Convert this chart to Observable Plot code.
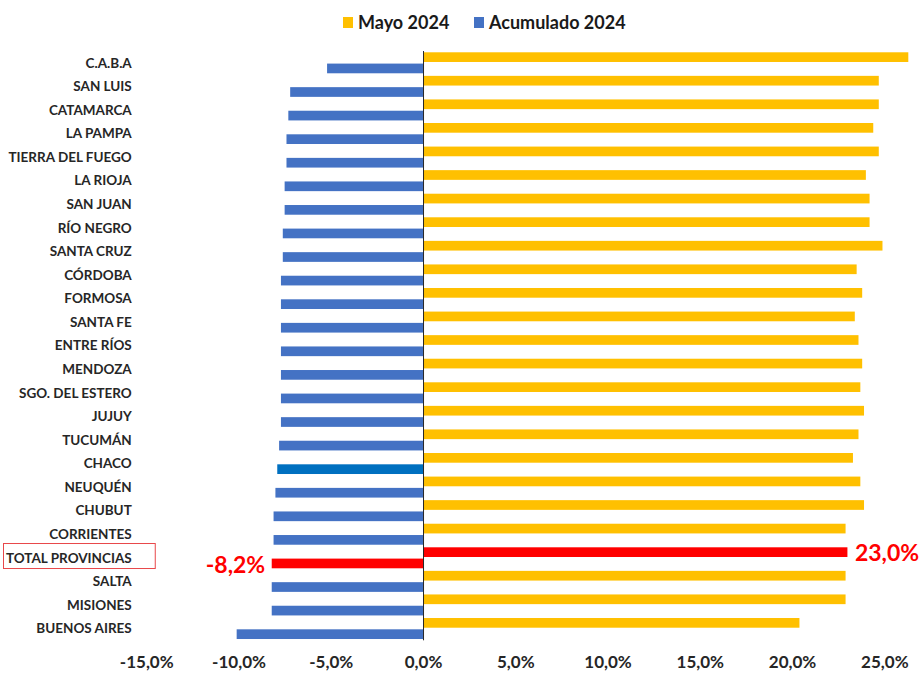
<!DOCTYPE html>
<html>
<head>
<meta charset="utf-8">
<script src="https://cdn.jsdelivr.net/npm/d3@7"></script>
<script src="https://cdn.jsdelivr.net/npm/@observablehq/plot@0.6"></script>
<style>
  html, body { margin: 0; padding: 0; background: #fff; }
  body { width: 922px; height: 675px; overflow: hidden; font-family: Lato, "Open Sans", sans-serif; }
  #legend { position: relative; width: 922px; height: 44px; }
  .lg-item { position: absolute; top: 11px; display: flex; align-items: center; font-weight: bold; font-size: 18px; color: #1a1a1a; line-height: 22px; }
  .lg-sw { width: 10px; height: 11px; margin-right: 5px; }
  #chart svg { display: block; }
</style>
</head>
<body>
<div id="legend">
  <div class="lg-item" style="left:343px"><span class="lg-sw" style="background:#FFC000"></span>Mayo 2024</div>
  <div class="lg-item" style="left:474px"><span class="lg-sw" style="background:#4472C4"></span>Acumulado 2024</div>
</div>
<div id="chart"></div>
<script>
const categories = [
  "C.A.B.A", "SAN LUIS", "CATAMARCA", "LA PAMPA", "TIERRA DEL FUEGO", "LA RIOJA",
  "SAN JUAN", "RÍO NEGRO", "SANTA CRUZ", "CÓRDOBA", "FORMOSA", "SANTA FE",
  "ENTRE RÍOS", "MENDOZA", "SGO. DEL ESTERO", "JUJUY", "TUCUMÁN", "CHACO",
  "NEUQUÉN", "CHUBUT", "CORRIENTES", "TOTAL PROVINCIAS", "SALTA", "MISIONES", "BUENOS AIRES"
];
const mayo2024 = [
  26.3, 24.7, 24.7, 24.4, 24.7, 24.0,
  24.2, 24.2, 24.9, 23.5, 23.8, 23.4,
  23.6, 23.8, 23.7, 23.9, 23.6, 23.3,
  23.7, 23.9, 22.9, 23.0, 22.9, 22.9, 20.4
];
const acumulado2024 = [
  -5.2, -7.2, -7.3, -7.4, -7.4, -7.5,
  -7.5, -7.6, -7.6, -7.7, -7.7, -7.7,
  -7.7, -7.7, -7.7, -7.7, -7.8, -7.9,
  -8.0, -8.1, -8.1, -8.2, -8.2, -8.2, -10.1
];
const xTicks = [-15, -10, -5, 0, 5, 10, 15, 20, 25];
const totalLabel = "TOTAL PROVINCIAS";
const altBlueLabel = "CHACO";

const YELLOW = "#FFC000", BLUE = "#4472C4", ALT_BLUE = "#0070C0", RED = "#FF0000", TEXT = "#262626";

const rows = categories.map((c, i) => ({cat: c, mayo: mayo2024[i], acum: acumulado2024[i]}));
const fmt = d => d.toFixed(1).replace(".", ",") + "%";

const W = 922, H = 631, mTop = 7, mBottom = 34.7, mLeft = 146.25, mRight = 10;
const step = (H - mTop - mBottom) / categories.length;
const half = step / 2;

const chart = Plot.plot({
  width: W,
  height: H,
  marginTop: mTop,
  marginBottom: mBottom,
  marginLeft: mLeft,
  marginRight: mRight,
  style: {fontFamily: "Lato, 'Open Sans', sans-serif", background: "#fff"},
  x: {domain: [-15, 26.5]},
  y: {domain: categories, padding: 0, round: false},
  marks: [
    Plot.barX(rows, {
      x: "mayo", y: "cat",
      fill: d => d.cat === totalLabel ? RED : YELLOW,
      insetTop: half - 10.5, insetBottom: half + 0.8
    }),
    Plot.barX(rows, {
      x: "acum", y: "cat",
      fill: d => d.cat === totalLabel ? RED : (d.cat === altBlueLabel ? ALT_BLUE : BLUE),
      insetTop: half + 0.8, insetBottom: half - 10.5
    }),
    Plot.ruleX([0], {stroke: "#262626", strokeWidth: 1}),
    Plot.axisX({
      ticks: xTicks, tickFormat: fmt, tickSize: 0, tickPadding: 15,
      fontSize: 17, fontWeight: "bold", fill: TEXT, label: null
    }),
    Plot.axisY({
      tickSize: 0, tickPadding: 15, fontSize: 13.5, fontWeight: "bold", fill: TEXT, label: null
    }),
    Plot.text(rows.filter(d => d.cat === totalLabel), {
      x: "mayo", y: "cat", text: d => fmt(d.mayo), textAnchor: "start",
      dx: 7, dy: -5, fill: RED, fontSize: 23, fontWeight: "bold"
    }),
    Plot.text(rows.filter(d => d.cat === totalLabel), {
      x: "acum", y: "cat", text: d => "-" + fmt(Math.abs(d.acum)), textAnchor: "end",
      dx: -7, dy: 7.5, fill: RED, fontSize: 23, fontWeight: "bold"
    }),
    (index, scales, values, dims) => {
      const y0 = scales.y(totalLabel);
      return d3.create("svg:rect")
        .attr("x", 3.5)
        .attr("y", y0 - 2.5)
        .attr("width", dims.marginLeft + 9 - 3.5)
        .attr("height", 25)
        .attr("fill", "none")
        .attr("stroke", "#E8474A")
        .attr("stroke-width", 1)
        .node();
    }
  ]
});
document.getElementById("chart").appendChild(chart);
</script>
</body>
</html>
